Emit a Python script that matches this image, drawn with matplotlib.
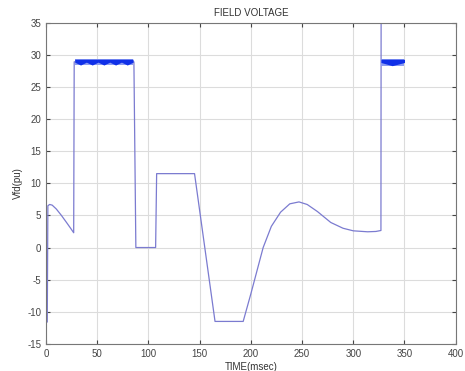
import matplotlib
matplotlib.use('Agg')
import matplotlib.pyplot as plt

# field voltage trace (time in msec, Vfd in pu)
t = [0, 1.2, 1.8, 3.5, 6, 10, 15, 20, 24, 27, 27.5, 85.8, 87.7, 107, 108, 145, 165,
     192.5, 200, 205, 212, 220, 229, 238, 247, 255, 265, 278, 290, 300, 314, 322, 327, 327.2]
vfd = [-11.5, -11.6, 6.5, 6.7, 6.6, 6.0, 5.0, 3.9, 3.0, 2.3, 28.9, 28.9, 0, 0, 11.5, 11.5, -11.5,
       -11.5, -7.2, -4.2, 0, 3.3, 5.5, 6.8, 7.1, 6.7, 5.6, 3.9, 3.0, 2.6, 2.45, 2.5, 2.65, 40]

# ceiling chatter bands
band1_t = [28, 33.7, 39.4, 45.1, 50.8, 56.5, 62.2, 67.9, 73.6, 79.3, 85]
band1_low = [28.85, 28.4, 28.85, 28.4, 28.85, 28.4, 28.85, 28.4, 28.85, 28.4, 28.85]
band2_t = [327, 338, 350]
band2_low = [28.8, 28.3, 28.8]
band_top = 29.3

plt.rcParams['font.family'] = ['Liberation Sans', 'DejaVu Sans']
plt.rcParams['axes.unicode_minus'] = False

fig = plt.figure(figsize=(4.65, 3.71), dpi=100)
ax = fig.add_axes([0.099, 0.073, 0.881, 0.866])

ax.plot(t, vfd, color='#7b7bd0', lw=0.9)
for bt, bl in [(band1_t, band1_low), (band2_t, band2_low)]:
    ax.fill_between(bt, [min(bl)] * len(bt), [band_top] * len(bt), color='#8c9cf2', lw=0, zorder=2)
    ax.fill_between(bt, bl, [band_top] * len(bt), color='#1030e8', lw=0, zorder=2.1)

ax.set_xlim(0, 400)
ax.set_ylim(-15, 35)
ax.set_xticks(range(0, 401, 50))
ax.set_yticks(range(-15, 36, 5))
ax.grid(True, color='#dcdcdc', lw=0.8)
ax.tick_params(labelsize=7, colors='#444444', length=3, direction='in', top=True, right=True)
for s in ax.spines.values():
    s.set_color('#777777')
    s.set_linewidth(0.8)

ax.set_title('FIELD VOLTAGE', fontsize=7, color='#333333', pad=5)
ax.set_xlabel('TIME(msec)', fontsize=7, color='#333333', labelpad=2)
ax.set_ylabel('Vfd(pu)', fontsize=7, color='#333333', labelpad=3)

fig.savefig('out.png', dpi=100)
